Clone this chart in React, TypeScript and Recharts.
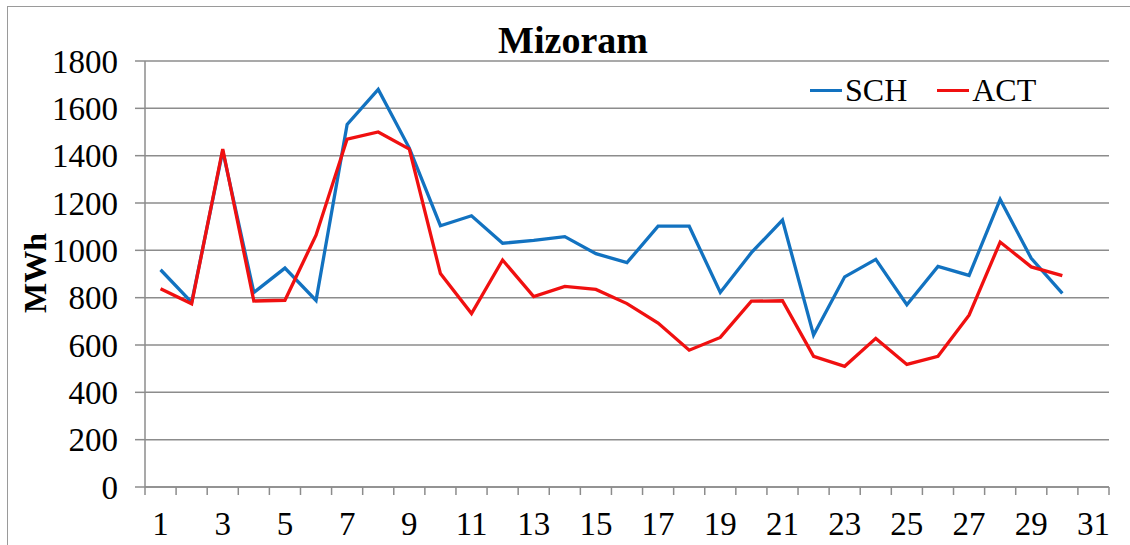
import { LineChart, Line, XAxis, YAxis, CartesianGrid, Legend } from 'recharts';

// daily energy, Mizoram (MWh)
const days = [1, 2, 3, 4, 5, 6, 7, 8, 9, 10, 11, 12, 13, 14, 15, 16, 17, 18, 19, 20, 21, 22, 23, 24, 25, 26, 27, 28, 29, 30];
const sch = [918, 780, 1420, 822, 925, 788, 1532, 1680, 1432, 1104, 1146, 1030, 1042, 1058, 986, 948, 1102, 1102, 822, 990, 1128, 642, 888, 962, 770, 932, 894, 1215, 966, 818];
const act = [838, 774, 1428, 786, 789, 1064, 1470, 1500, 1428, 902, 733, 959, 805, 848, 835, 775, 693, 578, 632, 785, 787, 552, 510, 628, 518, 552, 726, 1035, 930, 893];

const seriesOrder = ['SCH', 'ACT'];
const yTicks = [0, 200, 400, 600, 800, 1000, 1200, 1400, 1600, 1800];
const xLabels = [1, 3, 5, 7, 9, 11, 13, 15, 17, 19, 21, 23, 25, 27, 29, 31];
// tick marks sit between the day slots, excel style
const xMarks = [0.5, 1.5, 2.5, 3.5, 4.5, 5.5, 6.5, 7.5, 8.5, 9.5, 10.5, 11.5, 12.5, 13.5, 14.5, 15.5, 16.5, 17.5, 18.5, 19.5, 20.5, 21.5, 22.5, 23.5, 24.5, 25.5, 26.5, 27.5, 28.5, 29.5, 30.5, 31.5];

const data = days.map((d, i) => ({ day: d, SCH: sch[i], ACT: act[i] }));
const xTicks = [...xMarks, ...xLabels].sort((a, b) => a - b);

const FONT = '"Liberation Serif", "Times New Roman", serif';
const GRID = '#8c8c8c';
const TICK_LEN = 8;
const TICK_GAP = 17;
const TICK_FONT = 33;

function DayTick(props: any) {
  const { x, y, payload } = props;
  const v = payload.value;
  if (!Number.isInteger(v)) {
    return <line x1={x} x2={x} y1={y - TICK_GAP - TICK_LEN} y2={y - TICK_GAP} stroke={GRID} strokeWidth={1.5} />;
  }
  return (
    <text x={x} y={y} dy="0.71em" textAnchor="middle" fontSize={TICK_FONT} fontFamily={FONT} fill="#000">
      {v}
    </text>
  );
}

function LegendBox(props: any) {
  const items = [...(props.payload || [])].sort(
    (a: any, b: any) => seriesOrder.indexOf(a.value) - seriesOrder.indexOf(b.value)
  );
  return (
    <div style={{ display: 'flex', alignItems: 'center', fontFamily: FONT, fontSize: 32, lineHeight: '36px', color: '#000' }}>
      {items.map((e: any) => (
        <span key={e.value} style={{ display: 'flex', alignItems: 'center', marginRight: 30 }}>
          <span style={{ display: 'inline-block', width: 32, height: 3, background: e.color, marginRight: 3 }} />
          {e.value}
        </span>
      ))}
    </div>
  );
}

export default function App() {
  return (
    <div style={{ position: 'absolute', left: 0, top: 0, width: 1130, height: 545, overflow: 'hidden', background: '#fff' }}>
      <div style={{ position: 'absolute', left: 7, top: 6, width: 1200, height: 600, border: '1.5px solid #9a9a9a' }} />
      <div style={{ position: 'absolute', left: 373, top: 18, width: 400, textAlign: 'center', fontFamily: FONT, fontWeight: 'bold', fontSize: 38, lineHeight: '44px' }}>
        Mizoram
      </div>
      <div style={{ position: 'absolute', left: 35, top: 273, transform: 'translate(-50%, -50%) rotate(-90deg)', fontFamily: FONT, fontWeight: 'bold', fontSize: 32, whiteSpace: 'nowrap' }}>
        MWh
      </div>
      <LineChart width={1130} height={545} data={data} margin={{ top: 61, right: 21, bottom: 0, left: 0 }}>
        <CartesianGrid horizontal vertical={false} stroke={GRID} strokeWidth={1.5} />
        <XAxis
          dataKey="day"
          type="number"
          domain={[0.5, 31.5]}
          ticks={xTicks}
          interval={0}
          tickLine={false}
          tickSize={TICK_LEN}
          tickMargin={TICK_GAP}
          axisLine={{ stroke: GRID, strokeWidth: 1.5 }}
          tick={<DayTick />}
          height={58}
        />
        <YAxis
          domain={[0, 1800]}
          ticks={yTicks}
          interval={0}
          width={145}
          tickSize={10}
          tickMargin={17}
          tickLine={{ stroke: GRID, strokeWidth: 1.5 }}
          axisLine={{ stroke: GRID, strokeWidth: 1.5 }}
          tick={{ fontSize: TICK_FONT, fontFamily: FONT, fill: '#000' }}
        />
        <Legend
          layout="horizontal"
          verticalAlign="middle"
          align="center"
          content={<LegendBox />}
          wrapperStyle={{ position: 'absolute', left: 810, top: 72, width: 'auto' }}
        />
        <Line type="linear" dataKey="SCH" stroke="#1272c0" strokeWidth={3.3} dot={false} isAnimationActive={false} />
        <Line type="linear" dataKey="ACT" stroke="#f01010" strokeWidth={3.3} dot={false} isAnimationActive={false} />
      </LineChart>
    </div>
  );
}
